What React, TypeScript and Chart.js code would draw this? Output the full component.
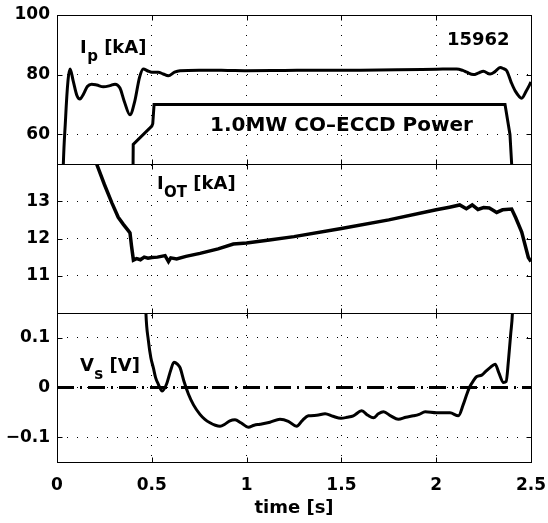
import React, { useEffect, useRef } from 'react';
import { Chart, registerables } from 'chart.js';

Chart.register(...registerables);

// ---- x axis ----
const xTicks = [0, 0.5, 1, 1.5, 2, 2.5];
const xTickLabels = ['0', '0.5', '1', '1.5', '2', '2.5'];

// ---- panel 1: plasma current Ip [kA] and ECCD power trace ----
const ipTicks = [60, 80, 100];
const ipTickLabels = ['60', '80', '100'];
const ipTime = [0.025, 0.03, 0.045, 0.058, 0.069, 0.085, 0.105, 0.121, 0.14, 0.16, 0.183, 0.21, 0.244, 0.28, 0.306, 0.332, 0.355, 0.385, 0.41, 0.435, 0.455, 0.48, 0.5, 0.534, 0.56, 0.587, 0.62, 0.649, 0.75, 0.9, 1.0, 1.2, 1.4, 1.6, 1.8, 2.0, 2.108, 2.14, 2.161, 2.196, 2.225, 2.249, 2.284, 2.31, 2.337, 2.355, 2.372, 2.395, 2.416, 2.451, 2.475, 2.5];
const ipValues = [20, 42, 65, 78, 81.9, 78, 73, 71.8, 73.5, 76, 76.8, 76.5, 75.9, 76.3, 76.8, 75.5, 71, 66.5, 71, 79, 81.9, 81.2, 80.8, 80.8, 80.2, 79.6, 80.8, 81.3, 81.5, 81.4, 81.3, 81.4, 81.5, 81.5, 81.6, 81.8, 81.9, 81.4, 80.8, 80.0, 80.6, 81.1, 80.2, 81.0, 82.4, 82.0, 81.3, 77.5, 74.6, 72.1, 74.5, 77.5];
const powerTime = [0.4, 0.402, 0.5, 0.505, 0.512, 0.52, 2.363, 2.389, 2.398, 2.4];
const powerValues = [40, 56.6, 62.7, 63.5, 70, 70, 70, 59.9, 50, 40];

// ---- panel 2: I_OT [kA] ----
const iotTicks = [11, 12, 13];
const iotTickLabels = ['11', '12', '13'];
const iotTime = [0.19, 0.209, 0.25, 0.29, 0.323, 0.35, 0.376, 0.385, 0.393, 0.403, 0.42, 0.44, 0.46, 0.48, 0.5, 0.53, 0.57, 0.588, 0.6, 0.631, 0.68, 0.754, 0.85, 0.93, 1.0, 1.12, 1.25, 1.5, 1.75, 2.0, 2.07, 2.124, 2.159, 2.19, 2.22, 2.25, 2.28, 2.3, 2.319, 2.35, 2.398, 2.42, 2.451, 2.486, 2.5];
const iotValues = [14.3, 14.0, 13.45, 12.95, 12.57, 12.38, 12.21, 12.15, 11.8, 11.42, 11.46, 11.43, 11.5, 11.47, 11.49, 11.5, 11.54, 11.38, 11.48, 11.45, 11.52, 11.6, 11.72, 11.85, 11.88, 11.96, 12.05, 12.27, 12.5, 12.77, 12.84, 12.9, 12.8, 12.9, 12.78, 12.83, 12.82, 12.76, 12.7, 12.77, 12.79, 12.55, 12.17, 11.49, 11.38];

// ---- panel 3: V_s [V] ----
const vsTicks = [-0.1, 0, 0.1];
const vsTickLabels = ['\u22120.1', '0', '0.1'];
const vsTime = [0.462, 0.469, 0.482, 0.495, 0.508, 0.52, 0.534, 0.555, 0.578, 0.6, 0.617, 0.635, 0.649, 0.67, 0.693, 0.72, 0.754, 0.78, 0.807, 0.835, 0.86, 0.885, 0.912, 0.939, 0.97, 1.009, 1.04, 1.071, 1.123, 1.176, 1.22, 1.264, 1.295, 1.326, 1.37, 1.414, 1.455, 1.498, 1.53, 1.563, 1.607, 1.64, 1.669, 1.695, 1.722, 1.76, 1.8, 1.84, 1.88, 1.91, 1.942, 2.002, 2.073, 2.117, 2.143, 2.16, 2.175, 2.195, 2.214, 2.24, 2.26, 2.284, 2.311, 2.33, 2.355, 2.369, 2.381, 2.393, 2.402, 2.41];
const vsValues = [0.25, 0.15, 0.0945, 0.06, 0.04, 0.02, 0.007, -0.007, 0.007, 0.035, 0.051, 0.047, 0.04, 0.012, -0.013, -0.035, -0.054, -0.064, -0.071, -0.076, -0.078, -0.074, -0.067, -0.065, -0.071, -0.08, -0.076, -0.074, -0.07, -0.064, -0.068, -0.078, -0.066, -0.057, -0.056, -0.053, -0.058, -0.062, -0.06, -0.057, -0.047, -0.056, -0.061, -0.053, -0.049, -0.057, -0.064, -0.06, -0.057, -0.054, -0.049, -0.051, -0.051, -0.057, -0.034, -0.015, 0.0, 0.013, 0.022, 0.025, 0.032, 0.04, 0.047, 0.03, 0.01, 0.012, 0.054, 0.108, 0.15, 0.25];
const zeroTime = [0, 2.5];
const zeroValues = [0, 0];

const FONT = "'DejaVu Sans', 'Liberation Sans', Arial, sans-serif";

const toPoints = (xs: number[], ys: number[]) => xs.map((x, i) => ({ x, y: ys[i] }));

const panelTicks: Record<string, number[]> = { y1: ipTicks, y2: iotTicks, y3: vsTicks };

function drawSubLabel(ctx: CanvasRenderingContext2D, x: number, y: number, main: string, sub: string, rest: string) {
  ctx.font = `bold 18px ${FONT}`;
  ctx.fillText(main, x, y);
  let cx = x + ctx.measureText(main).width + 0.5;
  ctx.font = `bold 15px ${FONT}`;
  ctx.fillText(sub, cx, y + 8);
  cx += ctx.measureText(sub).width;
  ctx.font = `bold 18px ${FONT}`;
  ctx.fillText(rest, cx, y);
}

const panelPlugin = {
  id: 'panelPlugin',
  beforeDatasetDraw(chart: any, args: any) {
    const ys = chart.scales[args.meta.yAxisID];
    const a = chart.chartArea;
    const ctx = chart.ctx;
    ctx.save();
    ctx.beginPath();
    ctx.rect(a.left, ys.top, a.right - a.left, ys.bottom - ys.top);
    ctx.clip();
  },
  afterDatasetDraw(chart: any) {
    chart.ctx.restore();
  },
  afterDraw(chart: any) {
    const ctx = chart.ctx as CanvasRenderingContext2D;
    const a = chart.chartArea;
    const xs = chart.scales.x;
    ctx.save();
    ctx.strokeStyle = '#000';
    ctx.lineWidth = 1;
    const L = Math.round(a.left) + 0.5;
    const R = Math.round(a.right) + 0.5;
    for (const id of ['y1', 'y2', 'y3']) {
      const ys = chart.scales[id];
      const T = Math.round(ys.top) + 0.5;
      const B = Math.round(ys.bottom) + 0.5;
      ctx.strokeRect(L, T, R - L, B - T);
      ctx.beginPath();
      for (const v of xTicks) {
        const px = Math.round(xs.getPixelForValue(v)) + 0.5;
        ctx.moveTo(px, T); ctx.lineTo(px, T + 5);
        ctx.moveTo(px, B); ctx.lineTo(px, B - 5);
      }
      for (const v of panelTicks[id]) {
        const py = Math.round(ys.getPixelForValue(v)) + 0.5;
        ctx.moveTo(L, py); ctx.lineTo(L + 5, py);
        ctx.moveTo(R, py); ctx.lineTo(R - 5, py);
      }
      ctx.stroke();
    }
    // annotations
    const y1 = chart.scales.y1, y2 = chart.scales.y2, y3 = chart.scales.y3;
    ctx.fillStyle = '#000';
    ctx.textBaseline = 'alphabetic';
    ctx.textAlign = 'left';
    drawSubLabel(ctx, xs.getPixelForValue(0.121), y1.getPixelForValue(87.1), 'I', 'p', ' [kA]');
    drawSubLabel(ctx, xs.getPixelForValue(0.527), y2.getPixelForValue(13.34), 'I', 'OT', ' [kA]');
    drawSubLabel(ctx, xs.getPixelForValue(0.121), y3.getPixelForValue(0.0338), 'V', 's', ' [V]');
    ctx.font = `bold 18px ${FONT}`;
    ctx.fillText('15962', xs.getPixelForValue(2.057), y1.getPixelForValue(90.1));
    ctx.font = `bold 20px ${FONT}`;
    ctx.fillText('1.0MW CO\u2013ECCD Power', xs.getPixelForValue(0.807), y1.getPixelForValue(61.05));
    ctx.restore();
  },
};

function yScale(min: number, max: number, ticks: number[], labels: string[]) {
  return {
    type: 'linear',
    position: 'left',
    stack: 'panels',
    stackWeight: 1,
    min,
    max,
    offset: false,
    afterBuildTicks: (scale: any) => {
      scale.ticks = ticks.map((v) => ({ value: v }));
    },
    afterFit: (scale: any) => {
      scale.width = 57;
      scale.paddingTop = 0;
      scale.paddingBottom = 0;
    },
    ticks: {
      callback: (v: number) => {
        const i = ticks.findIndex((t) => Math.abs(t - v) < 1e-9);
        return i >= 0 ? labels[i] : '';
      },
      color: '#000',
      padding: 7,
      font: { family: FONT, size: 17, weight: 'bold' },
    },
    grid: { color: '#000', lineWidth: 1, drawTicks: false },
    border: { display: false, dash: [1, 9] },
  };
}

export default function App() {
  const ref = useRef<HTMLCanvasElement | null>(null);
  useEffect(() => {
    if (!ref.current) return;
    const line = (data: any, yAxisID: string, extra: any = {}) => ({
      data,
      yAxisID,
      xAxisID: 'x',
      borderColor: '#000',
      borderWidth: 3,
      pointRadius: 0,
      fill: false,
      ...extra,
    });
    const chart = new Chart(ref.current, {
      type: 'line',
      data: {
        datasets: [
          line(toPoints(ipTime, ipValues), 'y1', { cubicInterpolationMode: 'monotone' }),
          line(toPoints(powerTime, powerValues), 'y1', { tension: 0 }),
          line(toPoints(iotTime, iotValues), 'y2', { tension: 0, borderWidth: 3.5 }),
          line(toPoints(vsTime, vsValues), 'y3', { cubicInterpolationMode: 'monotone' }),
          line(toPoints(zeroTime, zeroValues), 'y3', { tension: 0, borderWidth: 3, borderDash: [17, 6, 2, 6] }),
        ],
      },
      options: {
        responsive: false,
        animation: false,
        events: [],
        layout: { padding: { left: 0, right: 17, top: 15, bottom: 0 } },
        plugins: { legend: { display: false }, tooltip: { enabled: false } },
        scales: {
          x: {
            type: 'linear',
            position: 'bottom',
            min: 0,
            max: 2.5,
            afterBuildTicks: (scale: any) => {
              scale.ticks = xTicks.map((v) => ({ value: v }));
            },
            afterFit: (scale: any) => {
              scale.height = 61;
              scale.paddingLeft = 0;
              scale.paddingRight = 0;
            },
            ticks: {
              callback: (v: number) => {
                const i = xTicks.findIndex((t) => Math.abs(t - v) < 1e-9);
                return i >= 0 ? xTickLabels[i] : '';
              },
              color: '#000',
              padding: 13,
              maxRotation: 0,
              font: { family: FONT, size: 17, weight: 'bold' },
            },
            grid: { color: '#000', lineWidth: 1, drawTicks: false },
            border: { display: false, dash: [1, 9] },
            title: {
              display: true,
              text: 'time [s]',
              color: '#000',
              font: { family: FONT, size: 18, weight: 'bold' },
              padding: { top: 0, bottom: 4 },
            },
          },
          // stacked panels: first defined is placed at the bottom
          y3: yScale(-0.15, 0.15, vsTicks, vsTickLabels),
          y2: yScale(10, 14, iotTicks, iotTickLabels),
          y1: yScale(50, 100, ipTicks, ipTickLabels),
        } as any,
      },
      plugins: [panelPlugin],
    } as any);
    return () => chart.destroy();
  }, []);
  return (
    <div style={{ position: 'absolute', left: 0, top: 0, width: 548, height: 523, background: '#fff' }}>
      <canvas ref={ref} width={548} height={523} style={{ display: 'block' }} />
    </div>
  );
}
